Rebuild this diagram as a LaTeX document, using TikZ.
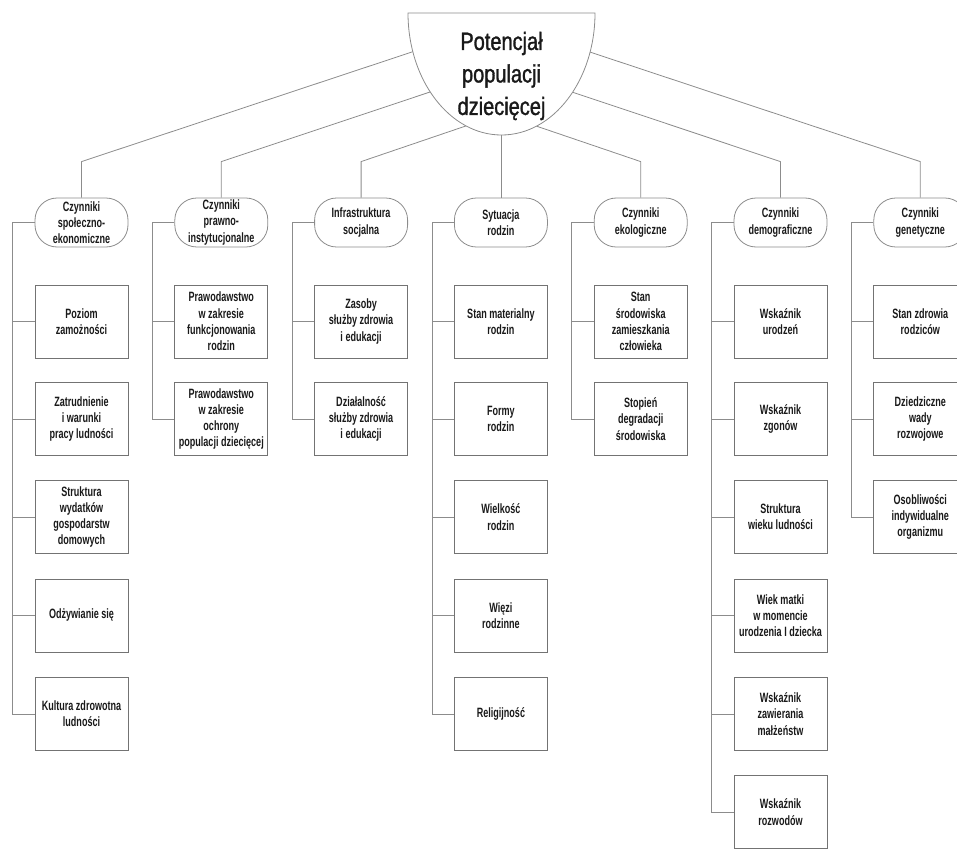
\documentclass[tikz,border=0pt]{standalone}
\usepackage{fontspec}
\setmainfont{Liberation Sans}
\newfontfamily\smallfam{Liberation Sans}[FakeStretch=0.67]
\newfontfamily\rootfam{Liberation Sans}[FakeStretch=0.8, FakeBold=1.2]
\newcommand\smalltxt{\smallfam\bfseries\fontsize{13.5}{16.3}\selectfont}
\newcommand\roottxt{\rootfam\fontsize{25}{32.5}\selectfont}
\definecolor{linegray}{RGB}{140,140,140}
\definecolor{boxgray}{RGB}{115,115,115}
\definecolor{txt}{RGB}{25,25,25}
\tikzset{
  conn/.style={draw=linegray, line width=0.8pt},
  cat/.style={draw=linegray, line width=0.8pt, rounded corners=22pt, minimum width=93pt,
    minimum height=49pt, inner sep=0pt, align=center, font=\smalltxt, text=txt},
  item/.style={draw=boxgray, line width=0.8pt, minimum width=93pt, minimum height=73pt,
    inner sep=0pt, align=center, font=\smalltxt, text=txt},
  bowl/.style={draw=linegray, line width=0.8pt, fill=white},
  roottext/.style={align=center, font=\roottxt, text=txt, inner sep=0pt}
}
\begin{document}
\begin{tikzpicture}[x=1pt,y=-1pt]
\useasboundingbox (0,0) rectangle (957,848);
% categories
\node[cat] (k1) at (81.5,222.5) {Czynniki\\społeczno-\\ekonomiczne};
\node[cat] (k2) at (221.3,222.5) {Czynniki\\prawno-\\instytucjonalne};
\node[cat] (k3) at (361.1,222.5) {Infrastruktura\\socjalna};
\node[cat] (k4) at (500.9,222.5) {Sytuacja\\rodzin};
\node[cat] (k5) at (640.7,222.5) {Czynniki\\ekologiczne};
\node[cat] (k6) at (780.5,222.5) {Czynniki\\demograficzne};
\node[cat] (k7) at (920.3,222.5) {Czynniki\\genetyczne};
% column 1
\node[item] (a1) at (81.5,321.5) {Poziom\\zamożności};
\node[item] (a2) at (81.5,419) {Zatrudnienie\\i warunki\\pracy ludności};
\node[item] (a3) at (81.5,517) {Struktura\\wydatków\\gospodarstw\\domowych};
\node[item] (a4) at (81.5,615.5) {Odżywianie się};
\node[item] (a5) at (81.5,714) {Kultura zdrowotna\\ludności};
% column 2
\node[item] (b1) at (221.3,321.5) {Prawodawstwo\\w zakresie\\funkcjonowania\\rodzin};
\node[item] (b2) at (221.3,419) {Prawodawstwo\\w zakresie\\ochrony\\populacji dziecięcej};
% column 3
\node[item] (c1) at (361.1,321.5) {Zasoby\\służby zdrowia\\i edukacji};
\node[item] (c2) at (361.1,419) {Działalność\\służby zdrowia\\i edukacji};
% column 4
\node[item] (d1) at (500.9,321.5) {Stan materialny\\rodzin};
\node[item] (d2) at (500.9,419) {Formy\\rodzin};
\node[item] (d3) at (500.9,517) {Wielkość\\rodzin};
\node[item] (d4) at (500.9,615.5) {Więzi\\rodzinne};
\node[item] (d5) at (500.9,714) {Religijność};
% column 5
\node[item] (e1) at (640.7,321.5) {Stan\\środowiska\\zamieszkania\\człowieka};
\node[item] (e2) at (640.7,419) {Stopień\\degradacji\\środowiska};
% column 6
\node[item] (f1) at (780.5,321.5) {Wskaźnik\\urodzeń};
\node[item] (f2) at (780.5,419) {Wskaźnik\\zgonów};
\node[item] (f3) at (780.5,517) {Struktura\\wieku ludności};
\node[item] (f4) at (780.5,615.5) {Wiek matki\\w momencie\\urodzenia I dziecka};
\node[item] (f5) at (780.5,714) {Wskaźnik\\zawierania\\małżeństw};
\node[item] (f6) at (780.5,812) {Wskaźnik\\rozwodów};
% column 7
\node[item] (g1) at (920.3,321.5) {Stan zdrowia\\rodziców};
\node[item] (g2) at (920.3,419) {Dziedziczne\\wady\\rozwojowe};
\node[item] (g3) at (920.3,517) {Osobliwości\\indywidualne\\organizmu};
% trunks
\draw[conn] (k1.west) -- ++(-22,0) |- (a5.west);
\foreach \n in {a1,a2,a3,a4} \draw[conn] (\n.west) -- ++(-22,0);
\draw[conn] (k2.west) -- ++(-22,0) |- (b2.west);
\draw[conn] (b1.west) -- ++(-22,0);
\draw[conn] (k3.west) -- ++(-22,0) |- (c2.west);
\draw[conn] (c1.west) -- ++(-22,0);
\draw[conn] (k4.west) -- ++(-22,0) |- (d5.west);
\foreach \n in {d1,d2,d3,d4} \draw[conn] (\n.west) -- ++(-22,0);
\draw[conn] (k5.west) -- ++(-22,0) |- (e2.west);
\draw[conn] (e1.west) -- ++(-22,0);
\draw[conn] (k6.west) -- ++(-22,0) |- (f6.west);
\foreach \n in {f1,f2,f3,f4,f5} \draw[conn] (\n.west) -- ++(-22,0);
\draw[conn] (k7.west) -- ++(-22,0) |- (g3.west);
\foreach \n in {g1,g2} \draw[conn] (\n.west) -- ++(-22,0);
% root connectors
\coordinate (r1) at (417.7,50.1);
\coordinate (r2) at (432.7,91.1);
\coordinate (r3) at (468.7,125);
\coordinate (r4) at (500.9,125);
\coordinate (r5) at (533.1,125);
\coordinate (r6) at (569.1,91.1);
\coordinate (r7) at (584.1,50.1);
\draw[conn] (r1) -- ([yshift=36pt]k1.north) -- (k1.north);
\draw[conn] (r2) -- ([yshift=36pt]k2.north) -- (k2.north);
\draw[conn] (r3) -- ([yshift=36pt]k3.north) -- (k3.north);
\draw[conn] (r4) -- (k4.north);
\draw[conn] (r5) -- ([yshift=36pt]k5.north) -- (k5.north);
\draw[conn] (r6) -- ([yshift=36pt]k6.north) -- (k6.north);
\draw[conn] (r7) -- ([yshift=36pt]k7.north) -- (k7.north);
% root bowl
\draw[bowl] (408,13) -- (595,13) arc[start angle=0, end angle=180, x radius=93.5, y radius=122] -- cycle;
\node[roottext] (root) at (501.5,76) {Potencjał\\populacji\\dziecięcej};
\end{tikzpicture}
\end{document}
